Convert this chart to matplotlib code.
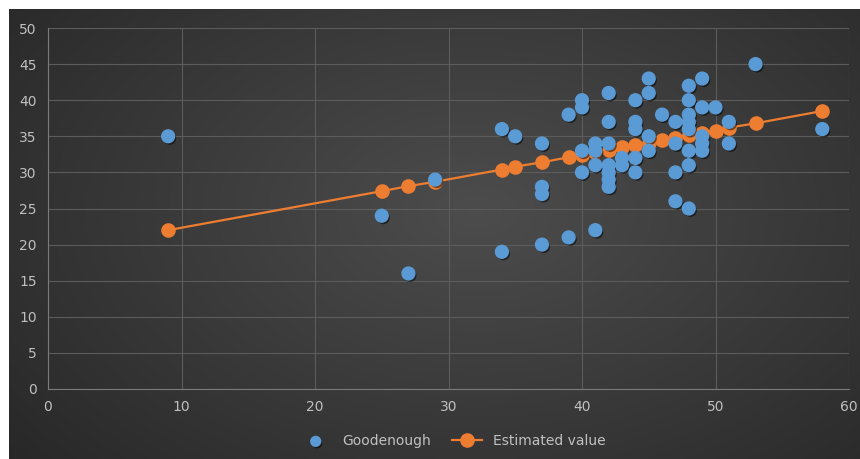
import numpy as np
import matplotlib.pyplot as plt
import matplotlib.patheffects as pe

# Goodenough observations (x, y)
good_x = [9, 25, 27, 29, 34, 34, 35,
          37, 37, 37, 37, 39, 39,
          40, 40, 40, 40, 41, 41, 41, 41,
          42, 42, 42, 42, 42, 42, 42,
          43, 43, 44, 44, 44, 44, 44,
          45, 45, 45, 45, 46,
          47, 47, 47, 47,
          48, 48, 48, 48, 48, 48, 48, 48,
          49, 49, 49, 49, 49,
          50, 51, 51, 53, 58]
good_y = [35, 24, 16, 29, 36, 19, 35,
          34, 28, 27, 20, 38, 21,
          40, 39, 33, 30, 34, 33, 31, 22,
          41, 37, 34, 31, 30, 29, 28,
          32, 31, 40, 37, 36, 32, 30,
          43, 41, 35, 33, 38,
          37, 34, 30, 26,
          42, 40, 38, 37, 36, 33, 31, 25,
          43, 39, 35, 34, 33,
          39, 37, 34, 45, 36]

# Estimated value series
est_x = [9, 25, 27, 29, 34, 35, 37, 39, 40, 41, 42, 43, 44, 45, 46, 47, 48, 49, 50, 51, 53, 58]
est_y = [22.0, 27.4, 28.1, 28.7, 30.4, 30.8, 31.4, 32.1, 32.4, 32.8, 33.1, 33.5,
         33.8, 34.1, 34.5, 34.8, 35.2, 35.5, 35.8, 36.2, 36.8, 38.5]

W, H = 860, 459
fig = plt.figure(figsize=(W / 100, H / 100), dpi=100, facecolor='white')

# dark radial-gradient background
bg = fig.add_axes([9 / W, 0, (W - 9) / W, (H - 9) / H])
yy, xx = np.mgrid[0:1:200j, 0:1:300j]
r = np.sqrt(((xx - 0.55) / 0.75) ** 2 + ((yy - 0.45) / 0.9) ** 2)
shade = 0.30 - 0.15 * np.clip(r, 0, 1)
bg.imshow(np.dstack([shade] * 3), aspect='auto', extent=[0, 1, 0, 1])
bg.axis('off')

ax = fig.add_axes([48 / W, 1 - 389 / H, 801 / W, 361 / H])
ax.set_facecolor('none')

shadow = [pe.SimplePatchShadow(offset=(1.2, -1.5), shadow_rgbFace='black', alpha=0.5), pe.Normal()]
ax.plot(est_x, est_y, color='#ED7D31', lw=1.6, marker='o', ms=9.5,
        label='Estimated value', zorder=3)
ax.scatter(good_x, good_y, s=85, color='#5B9BD5', label='Goodenough', zorder=4,
           path_effects=shadow)

ax.set_xlim(0, 60)
ax.set_ylim(0, 50)
ax.set_xticks(range(0, 61, 10))
ax.set_yticks(range(0, 51, 5))
ax.grid(True, color='#5c5c5c', lw=0.8)
ax.set_axisbelow(True)
for s in ['top', 'right']:
    ax.spines[s].set_visible(False)
for s in ['left', 'bottom']:
    ax.spines[s].set_color('#7a7a7a')
ax.tick_params(length=0, colors='#c0c0c0', labelsize=10, pad=8)

h, l = ax.get_legend_handles_labels()
leg = fig.legend(h[::-1], l[::-1], loc='center', bbox_to_anchor=(0.527, 1 - 441 / H), ncol=2,
                 frameon=False, labelcolor='#c0c0c0', fontsize=10, handlelength=2.2,
                 columnspacing=1.5)
leg.legend_handles[0].set_sizes([50])

fig.savefig('out.png', dpi=100, facecolor='white')
